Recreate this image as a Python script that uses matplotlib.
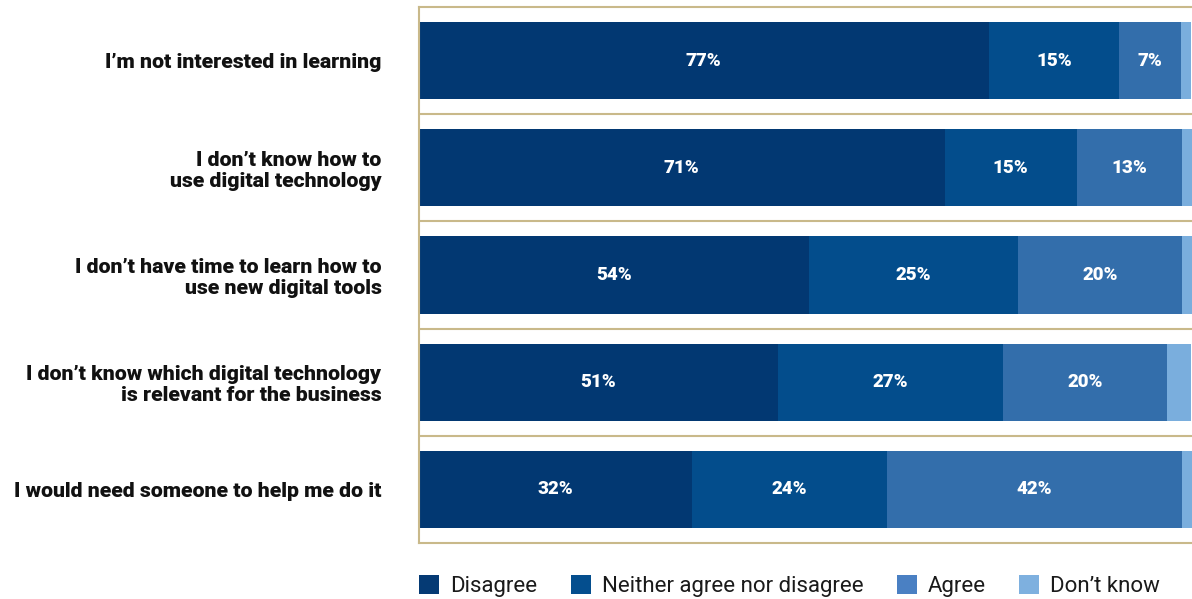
"""
Barriers to learning digital technology - stacked horizontal bars.
"""
import matplotlib
matplotlib.use("Agg")
import matplotlib.pyplot as plt
from matplotlib.patches import Patch
import numpy as np

# ── data ─────────────────────────────────────────────────────────────────────
categories = [
    "I\u2019m not interested in learning",
    "I don\u2019t know how to\nuse digital technology",
    "I don\u2019t have time to learn how to\nuse new digital tools",
    "I don\u2019t know which digital technology\nis relevant for the business",
    "I would need someone to help me do it",
]
series = ["Disagree", "Neither agree nor disagree", "Agree", "Don\u2019t know"]

# segment lengths as drawn (share of the visible width)
disagree = [73.7, 68.0, 50.5, 46.4, 35.3]
neither  = [16.9, 17.1, 27.0, 29.2, 25.2]
agree    = [8.0, 13.6, 21.2, 21.2, 38.2]
dont_know = [1.3, 1.3, 1.3, 3.1, 1.3]

# printed labels
lbl_disagree = ["77%", "71%", "54%", "51%", "32%"]
lbl_neither  = ["15%", "15%", "25%", "27%", "24%"]
lbl_agree    = ["7%", "13%", "20%", "20%", "42%"]

# ── style ────────────────────────────────────────────────────────────────────
C_BARS   = ["#023872", "#034D8C", "#336EAB", "#7AAEDD"]
C_LEGEND = ["#053A74", "#044E8E", "#4A80C3", "#7EB0DF"]
C_FRAME  = "#C9B98A"
FONT     = "Roboto"

W, H = 1192, 599
fig = plt.figure(figsize=(W / 100, H / 100), dpi=100)
fig.patch.set_facecolor("white")
ax = fig.add_axes([419 / W, 1 - 543 / H, 1 - 419 / W, (543 - 7) / H])

y = np.arange(len(categories))
cols = [disagree, neither, agree, dont_know]
labels = [lbl_disagree, lbl_neither, lbl_agree, None]
left = np.zeros(len(categories))
for vals, lbls, c in zip(cols, labels, C_BARS):
    vals = np.array(vals)
    ax.barh(y, vals, left=left, height=0.72, color=c, edgecolor="none", zorder=2)
    if lbls:
        for yi, (l, v, t) in enumerate(zip(left, vals, lbls)):
            ax.text(l + v / 2, yi, t, ha="center", va="center", color="white",
                    fontsize=13.5, fontweight=900, family=FONT, zorder=3)
    left += vals

ax.set_xlim(0, left.max())
ax.set_ylim(len(categories) - 0.5, -0.5)

# frame: left/top/bottom + row separators
ax.spines["right"].set_visible(False)
for s in ["left", "top", "bottom"]:
    ax.spines[s].set_color(C_FRAME)
    ax.spines[s].set_linewidth(1.5)
for yy in y[:-1] + 0.5:
    ax.axhline(yy, color=C_FRAME, lw=1.5, zorder=1)

ax.set_xticks([])
ax.set_yticks(y)
ax.set_yticklabels(categories, fontsize=15.3, fontweight=900, family=FONT,
                   color="#111111", linespacing=1.15, ha="right")
ax.tick_params(axis="y", length=0, pad=27)

# ── legend ───────────────────────────────────────────────────────────────────
handles = [Patch(facecolor=c, edgecolor="none") for c in C_LEGEND]
fig.legend(handles, series, loc="center left", bbox_to_anchor=(419 / W, 1 - 586 / H),
           ncol=4, frameon=False, prop={"family": FONT, "size": 16},
           handlelength=0.9, handleheight=0.9, handletextpad=0.5,
           columnspacing=1.5, borderpad=0, borderaxespad=0, labelcolor="#1a1a1a")

plt.savefig("out.png", dpi=100, facecolor="white")
